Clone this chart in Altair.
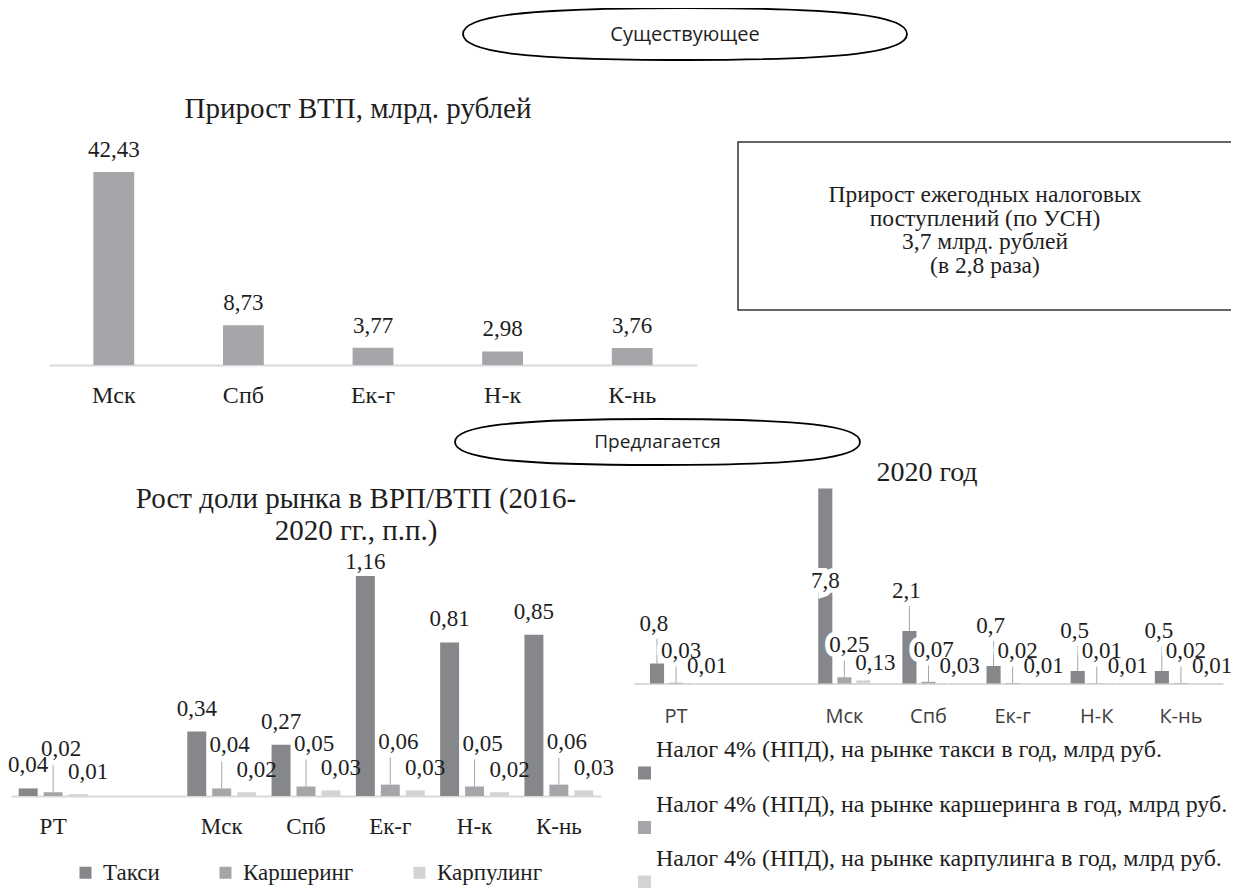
import altair as alt
import pandas as pd

# ---------------- data ----------------
top_cities = ["Мск", "Спб", "Ек-г", "Н-к", "К-нь"]
top_growth = [42.43, 8.73, 3.77, 2.98, 3.76]

share_slots = ["РТ", " ", "Мск", "Спб", "Ек-г", "Н-к", "К-нь"]
share_cities = ["РТ", "Мск", "Спб", "Ек-г", "Н-к", "К-нь"]
share_series = ["Такси", "Каршеринг", "Карпулинг"]
share_taxi = [0.04, 0.34, 0.27, 1.16, 0.81, 0.85]
share_carsh = [0.02, 0.04, 0.05, 0.06, 0.05, 0.06]
share_carp = [0.01, 0.02, 0.03, 0.03, 0.02, 0.03]

tax_slots = ["РТ", " ", "Мск", "Спб", "Ек-г", "Н-К", "К-нь"]
tax_cities = ["РТ", "Мск", "Спб", "Ек-г", "Н-К", "К-нь"]
tax_series = [
    "Налог 4% (НПД), на рынке такси в год, млрд руб.",
    "Налог 4% (НПД), на рынке каршеринга в год, млрд руб.",
    "Налог 4% (НПД), на рынке карпулинга в год, млрд руб.",
]
tax_taxi = [0.8, 7.8, 2.1, 0.7, 0.5, 0.5]
tax_carsh = [0.03, 0.25, 0.07, 0.02, 0.01, 0.02]
tax_carp = [0.01, 0.13, 0.03, 0.01, 0.01, 0.01]

box_lines = ["Прирост ежегодных налоговых", "поступлений (по УСН)", "3,7 млрд. рублей", "(в 2,8 раза)"]
title_top = "Прирост ВТП, млрд. рублей"
title_share = ["Рост доли рынка в ВРП/ВТП (2016-", "2020 гг., п.п.)"]
title_tax = "2020 год"
oval_top = "Существующее"
oval_mid = "Предлагается"

# ---------------- styles ----------------
SERIF = "'Liberation Serif', 'Times New Roman', Times, serif"
SANS = "'Open Sans', 'Noto Sans', sans-serif"
TXT = "#1e1e1e"
AXC = "#d9d9d9"
LEAD = "#a6a6a6"
COLS = ["#86878b", "#a5a6a9", "#d3d4d6"]
LBL = "replace(format(datum.v, '.2~f'), '.', ',')"
ONE = alt.Data(values=[{}])
H = 880


def long_df(cities, series, cols):
    rows = []
    for s, vals in zip(series, cols):
        for c, v in zip(cities, vals):
            rows.append({"city": c, "series": s, "v": v})
    return pd.DataFrame(rows)


def band_axis(base, font, size, pad, color):
    return alt.Axis(orient="bottom", offset=base - H, title=None, ticks=False, tickSize=0,
                    labelPadding=pad, labelFont=font, labelFontSize=size, labelColor=color,
                    labelAngle=0, domainColor=AXC, domainWidth=2, grid=False)


# ---------------- top-left chart ----------------
top_df = pd.DataFrame({"city": top_cities, "v": top_growth})
tx = alt.X("city:N", scale=alt.Scale(domain=top_cities, range=[41, 689], paddingInner=0.685,
                                      paddingOuter=0.3425),
           axis=band_axis(357, SERIF, 24, 18, TXT))
ty = alt.Y("v:Q", scale=alt.Scale(domain=[0, 42.43], range=[357, 164], nice=False, zero=True), axis=None)
top_base = alt.Chart(top_df).encode(x=tx, y=ty)
top_chart = alt.layer(
    top_base.mark_bar(color=COLS[1]),
    top_base.transform_calculate(lbl=LBL).mark_text(dy=-15, baseline="alphabetic", font=SERIF,
                                                    fontSize=23, color=TXT).encode(text="lbl:N"),
)

# ---------------- bottom-left chart ----------------
share_df = long_df(share_cities, share_series, [share_taxi, share_carsh, share_carp])
sx = alt.X("city:N", scale=alt.Scale(domain=share_slots, range=[3, 593], paddingInner=0.112,
                                      paddingOuter=0.056),
           axis=band_axis(788, SERIF, 23, 19, TXT))
sxo = alt.XOffset("series:N", scale=alt.Scale(domain=share_series, paddingInner=0.24, paddingOuter=0.12))
sy = alt.Y("v:Q", scale=alt.Scale(domain=[0, 1.16], range=[788, 568], nice=False, zero=True), axis=None)
scol = alt.Color("series:N", scale=alt.Scale(domain=share_series, range=COLS),
                 legend=alt.Legend(orient="none", legendX=66, legendY=853, direction="horizontal",
                                   title=None, symbolType="square", symbolSize=144,
                                   symbolStrokeWidth=0, labelFont=SERIF, labelFontSize=23,
                                   labelColor=TXT, labelOffset=6, columnPadding=54, padding=0,
                                   labelLimit=400))
sb = alt.Chart(share_df).encode(x=sx, xOffset=sxo, y=sy)


def stext(b, name, dx, dy, **kw):
    return (b.transform_filter(alt.datum.series == name).transform_calculate(lbl=LBL)
            .mark_text(dx=dx, dy=dy, baseline="alphabetic", **kw).encode(text="lbl:N"))


share_font = dict(font=SERIF, fontSize=23, color=TXT)
share_chart = alt.layer(
    sb.mark_bar().encode(color=scol),
    sb.transform_filter(alt.datum.series == share_series[1])
      .mark_rule(color=LEAD, strokeWidth=1, y2Offset=-27).encode(y2=alt.Y2("v")),
    stext(sb.transform_filter(alt.datum.v < 1), share_series[0], 0, -16, **share_font),
    stext(sb.transform_filter(alt.datum.v >= 1), share_series[0], 0, -7, **share_font),
    stext(sb, share_series[1], 8, -36, **share_font),
    stext(sb, share_series[2], 10, -15, **share_font),
)

# ---------------- bottom-right chart ----------------
tax_df = long_df(tax_cities, tax_series, [tax_taxi, tax_carsh, tax_carp])
rx = alt.X("city:N", scale=alt.Scale(domain=tax_slots, range=[626, 1215], paddingInner=0.32,
                                      paddingOuter=0.16),
           axis=band_axis(675.5, SANS, 20, 23, "#404040"))
rxo = alt.XOffset("series:N", scale=alt.Scale(domain=tax_series, paddingInner=0.26, paddingOuter=0.13))
ry = alt.Y("v:Q", scale=alt.Scale(domain=[0, 7.8], range=[675.5, 480.5], nice=False, zero=True), axis=None)
rcol = alt.Color("series:N", scale=alt.Scale(domain=tax_series, range=COLS), legend=None)
rb = alt.Chart(tax_df).encode(x=rx, xOffset=rxo, y=ry)
rb_small = rb.transform_filter(alt.datum.v < 5)
rb_big = rb.transform_filter(alt.datum.v >= 5)

halo = dict(font=SERIF, fontSize=23, color="white", stroke="white", strokeWidth=10)
norm = dict(font=SERIF, fontSize=23, color=TXT)
tax_labels = []
for kw in (halo, norm):
    tax_labels += [
        stext(rb_small, tax_series[0], -3, -33, **kw),
        stext(rb_big, tax_series[0], 0, 99, **kw),
        stext(rb, tax_series[1], 5, -25, **kw),
        stext(rb, tax_series[2], 12, -10, **kw),
    ]

tax_chart = alt.layer(
    rb.mark_bar().encode(color=rcol),
    rb_small.transform_filter(alt.datum.series == tax_series[0])
      .mark_rule(color=LEAD, strokeWidth=1, y2Offset=-25).encode(y2=alt.Y2("v")),
    rb.transform_filter(alt.datum.series == tax_series[1])
      .mark_rule(color=LEAD, strokeWidth=1, y2Offset=-17).encode(y2=alt.Y2("v")),
    *tax_labels,
)

# ---------------- right legend ----------------
leg_df = pd.DataFrame({"series": tax_series})
ly = alt.Y("series:N", scale=alt.Scale(type="point", domain=tax_series, range=[765, 874], padding=0),
           axis=None)
lcol = alt.Color("series:N", scale=alt.Scale(domain=tax_series, range=COLS), legend=None)
lb = alt.Chart(leg_df).encode(y=ly)
leg_chart = alt.layer(
    lb.mark_square(size=169, opacity=1).encode(x=alt.value(636.5), color=lcol),
    lb.mark_text(align="left", baseline="alphabetic", dy=-16, font=SERIF, fontSize=24, color=TXT)
      .encode(x=alt.value(648), text="series:N"),
)

# ---------------- decorations ----------------
def oval(w, h):
    r = h / w
    k = 0.7 * r
    return (f"M-1,0 C-1,{-k:.4f} -0.72,{-r:.4f} 0,{-r:.4f} C0.72,{-r:.4f} 1,{-k:.4f} 1,0 "
            f"C1,{k:.4f} 0.72,{r:.4f} 0,{r:.4f} C-0.72,{r:.4f} -1,{k:.4f} -1,0 Z")


def ann_text(text, x, y, font, size, **kw):
    return alt.Chart(ONE).mark_text(text=text, font=font, fontSize=size, color=TXT, **kw).encode(
        x=alt.value(x), y=alt.value(y))


ell1 = alt.Chart(ONE).mark_point(shape=oval(444, 52), size=444 ** 2, filled=False, color="black",
                                 strokeWidth=1.8, opacity=1).encode(x=alt.value(677), y=alt.value(26))
ell2 = alt.Chart(ONE).mark_point(shape=oval(405, 46), size=405 ** 2, filled=False, color="black",
                                 strokeWidth=1.8, opacity=1).encode(x=alt.value(649.5), y=alt.value(434))
box = alt.Chart(ONE).mark_rect(fill="white", stroke="#333333", strokeWidth=1.5).encode(
    x=alt.value(730), x2=alt.value(1225), y=alt.value(134), y2=alt.value(302))

decor = [
    ell1, ell2, box,
    ann_text(oval_top, 677, 27, SANS, 20, baseline="middle", align="center"),
    ann_text(oval_mid, 649.5, 434, SANS, 19, baseline="middle", align="center"),
    ann_text(title_top, 350, 110, SERIF, 29, baseline="alphabetic", align="center"),
    ann_text(title_share, 348, 500, SERIF, 29, baseline="alphabetic", align="center", lineHeight=32),
    ann_text(title_tax, 919, 473, SERIF, 28, baseline="alphabetic", align="center"),
    ann_text(box_lines, 977, 194, SERIF, 23.5, baseline="alphabetic", align="center", lineHeight=23.5),
]

chart = (
    alt.layer(top_chart, share_chart, tax_chart, leg_chart, *decor)
    .resolve_scale(x="independent", y="independent", color="independent", xOffset="independent")
    .resolve_axis(x="independent", y="independent")
    .resolve_legend(color="independent")
    .properties(width=1223, height=H, autosize=alt.AutoSizeParams(type="none"), padding=0,
                background="white")
    .configure_view(stroke=None)
)

chart.save("out.html", embed_options={"renderer": "svg", "actions": False})
